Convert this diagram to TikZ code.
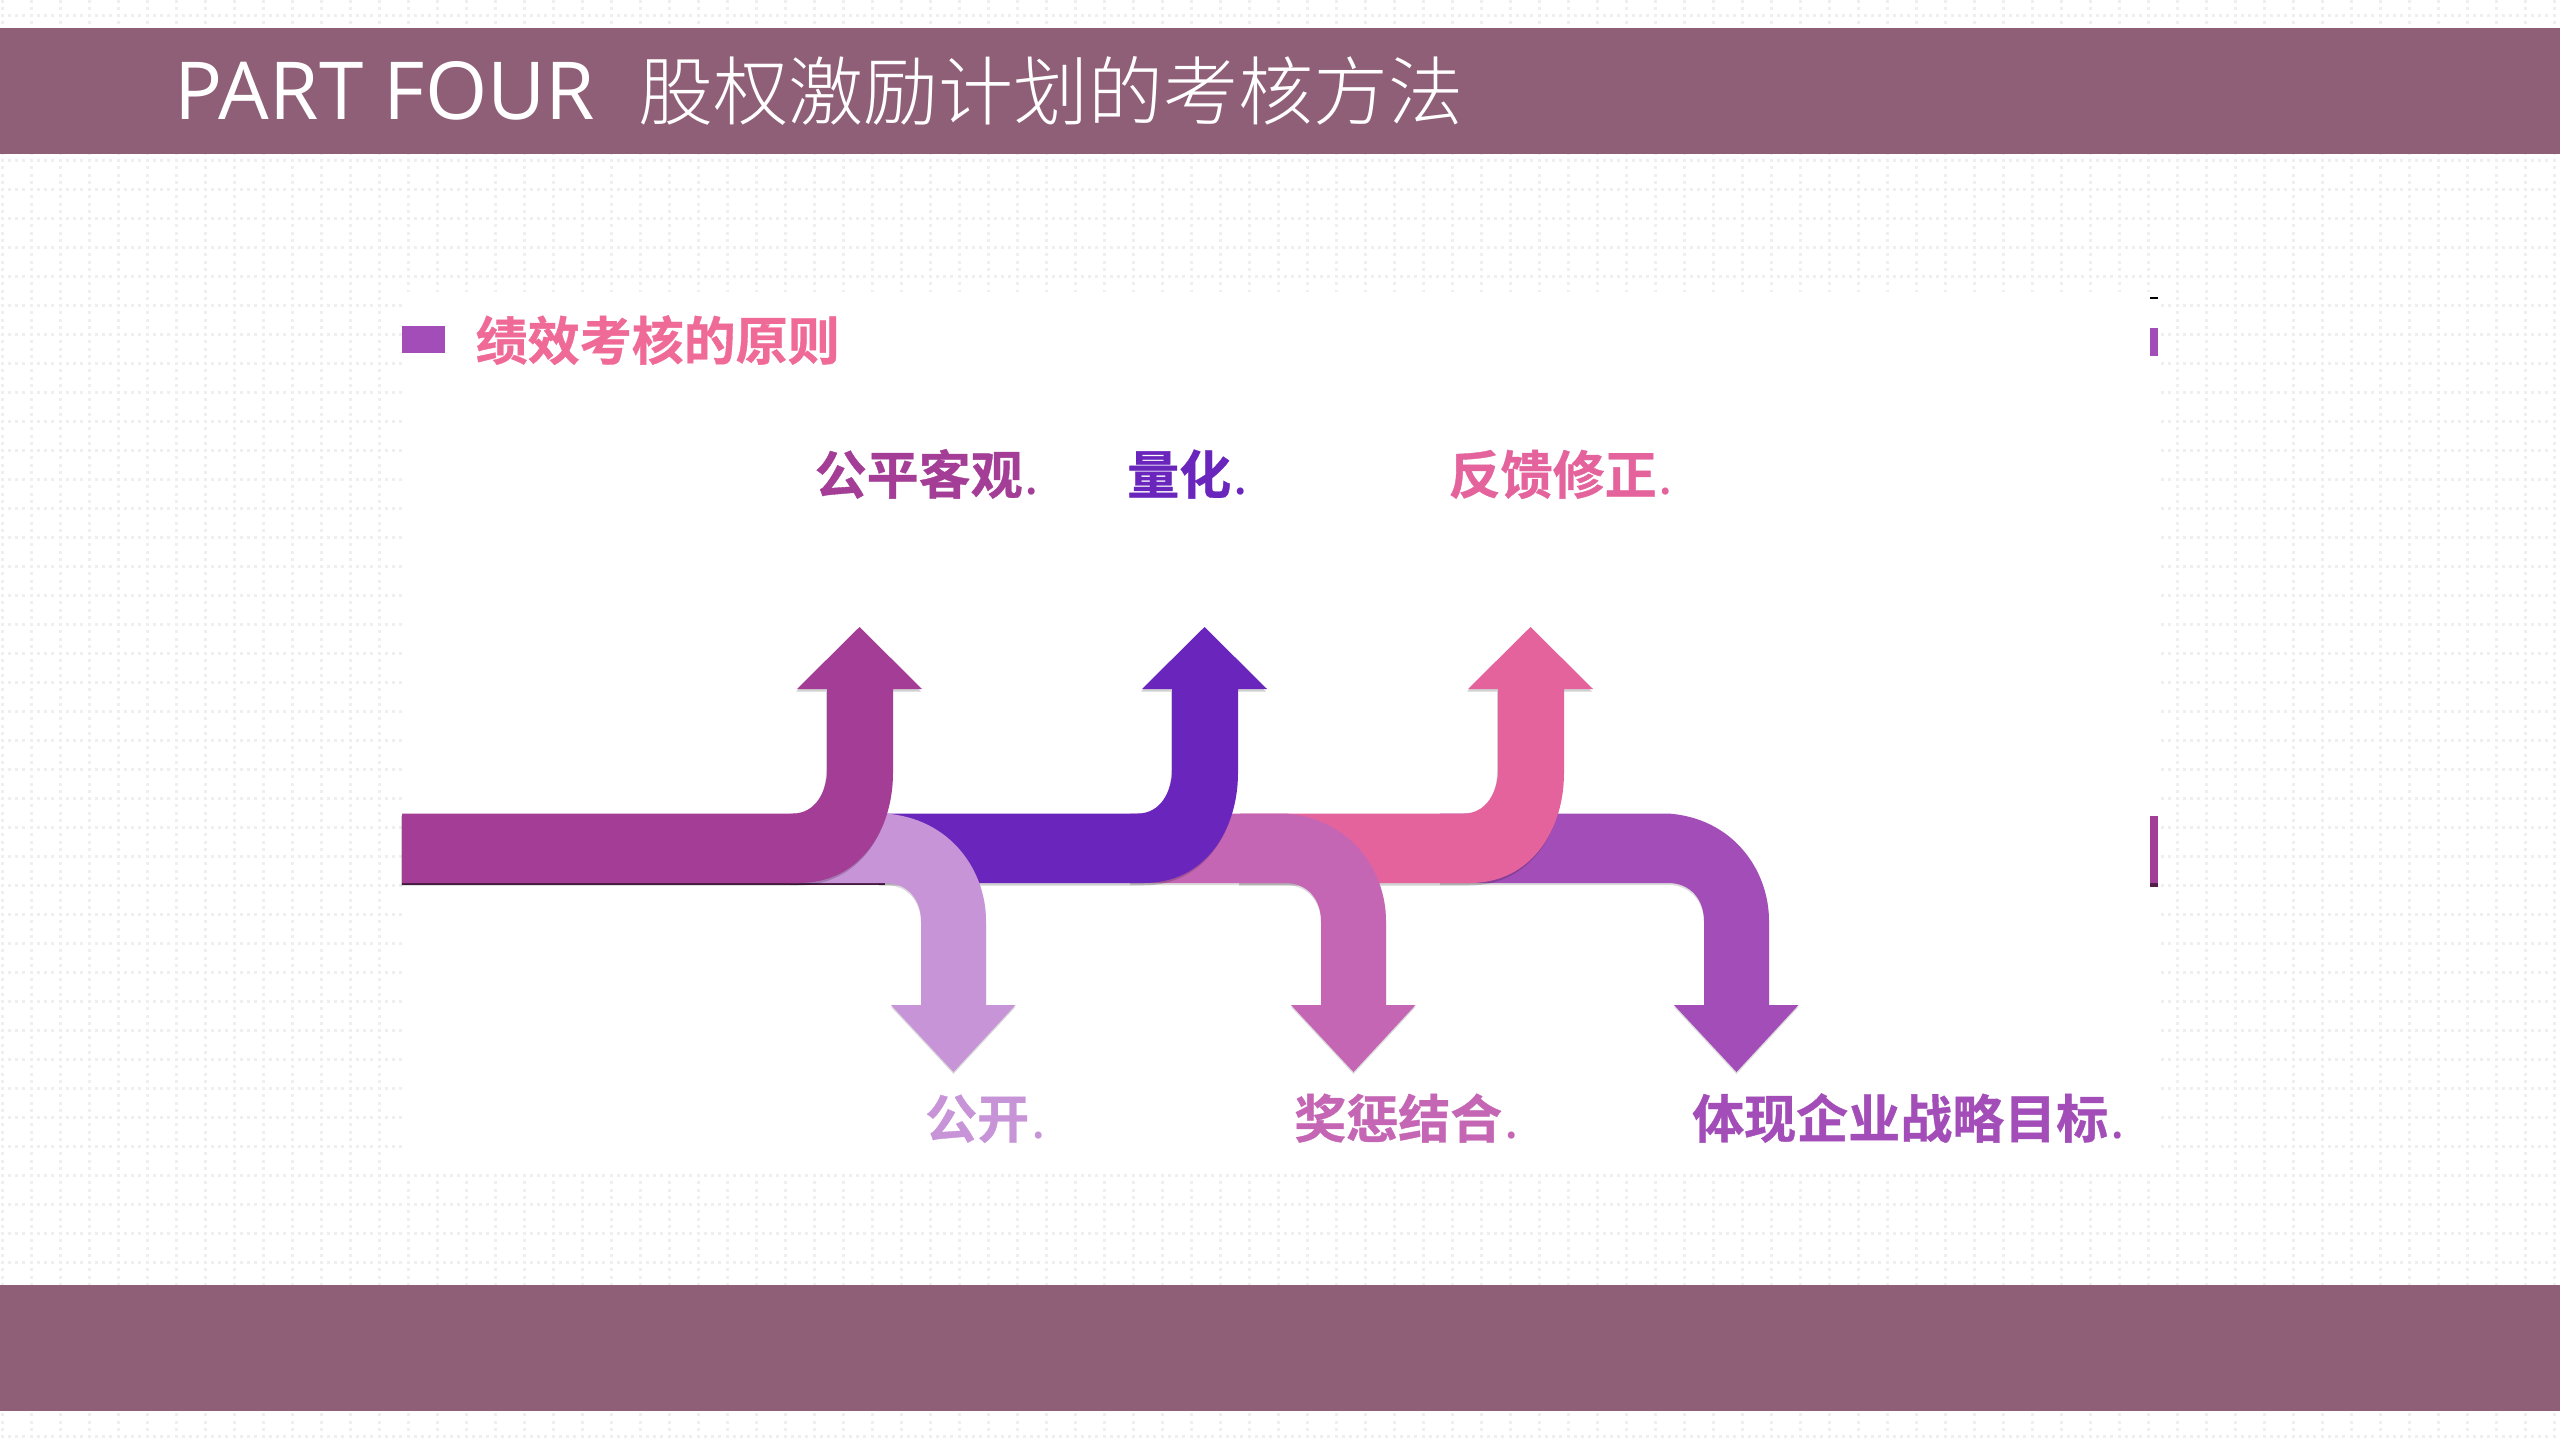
\documentclass[tikz,border=0pt]{standalone}
\usepackage{fontspec}
\newfontfamily\cjkbold[FakeBold=0.7]{Noto Sans CJK SC Bold}
\newfontfamily\cjkdot{Noto Sans CJK SC}
\newfontfamily\cjklight{Noto Sans CJK SC Light}
\newfontfamily\latinreg{Open Sans}
\definecolor{band}{HTML}{8F5E77}
\definecolor{dotgrey}{HTML}{EFEFEF}
\definecolor{cMagenta}{HTML}{A33D96}
\definecolor{cViolet}{HTML}{6A25BD}
\definecolor{cPink}{HTML}{E5639C}
\definecolor{cLilac}{HTML}{C794D8}
\definecolor{cOrchid}{HTML}{C566B5}
\definecolor{cPurple}{HTML}{A24DB8}
\definecolor{cRose}{HTML}{EF6A97}
\newcommand{\uppath}[1]{(#1,813.5) -- (793,813.5) .. controls (815,813.5) and (827,792) .. (827,770) -- (827,689) -- (797,689) -- (859.5,627) -- (922,689) -- (893,689) -- (893,773) .. controls (893,830) and (860,883) .. (799,883) -- (#1,883) -- cycle}
\newcommand{\downpath}[1]{(#1,813.5) -- (885,813.5) .. controls (950,818) and (986,870) .. (986,921) -- (986,1005) -- (1015.5,1005) -- (953.5,1072) -- (891,1005) -- (921,1005) -- (921,921) .. controls (921,900) and (908,883) .. (885,883) -- (#1,883) -- cycle}
\newcommand{\uparrowshape}[3]{\begin{scope}[xshift=#2pt]
  \fill[black,opacity=.18] [xshift=-1pt,yshift=-2.5pt] \uppath{#1};
  \fill[#3] \uppath{#1};
\end{scope}}
\newcommand{\downarrowshape}[3]{\begin{scope}[xshift=#2pt]
  \fill[black,opacity=.14] [yshift=-2pt] \downpath{#1};
  \fill[#3] \downpath{#1};
\end{scope}}
\newcommand{\smalldot}{\hspace{2pt}{\cjkdot .}}
\tikzset{
  label text/.style={anchor=base west,inner sep=0pt,font=\cjkbold\fontsize{52}{52}\selectfont},
  title text/.style={anchor=base west,inner sep=0pt,text=white},
}
\begin{document}
\begin{tikzpicture}[x=1pt,y=-1pt]
\useasboundingbox (0,0) rectangle (2560,1440);
\fill[white] (0,0) rectangle (2560,1440);
% dotted background
\foreach \k in {0,...,49}{
  \draw[dotgrey,line width=3pt,dash pattern=on 3pt off 4.25pt] (0.5,{15.7+29*\k}) -- (2560,{15.7+29*\k});
}
\foreach \k in {0,...,88}{
  \draw[dotgrey,line width=3pt,dash pattern=on 3pt off 4.25pt] ({2+29*\k},-14.8) -- ({2+29*\k},1440);
}
% bands and white panel
\fill[white] (402,292) rectangle (2158,1172);
\fill[band] (0,28) rectangle (2560,154);
\fill[band] (0,1285) rectangle (2560,1411);
\node[title text] (title) at (174.5,119) {\fontsize{80}{80}\selectfont{\latinreg PART FOUR}\hspace{43pt}{\cjklight\fontsize{75}{75}\selectfont 股权激励计划的考核方法}};
% heading
\fill[cPurple] (402,326) rectangle (445,353);
\node[label text,text=cRose] (heading) at (475.5,360) {绩效考核的原则};
% right margin marks
\fill[black] (2150,296.5) rectangle (2158,298.5);
\fill[cPurple] (2150,328) rectangle (2158,356);
\fill[cMagenta] (2150,816) rectangle (2158,883);
\fill[black!50!cMagenta] (2150,883) rectangle (2158,887);
% arrows, back to front
\fill[black!50!cMagenta] (402,883) rectangle (885,885);
\downarrowshape{657}{783}{cPurple}
\uparrowshape{569}{671}{cPink}
\downarrowshape{730}{400}{cOrchid}
\uparrowshape{535}{345}{cViolet}
\downarrowshape{790}{0}{cLilac}
\uparrowshape{402}{0}{cMagenta}
% labels
\node[label text,text=cMagenta] (l1) at (814.5,494) {公平客观\smalldot};
\node[label text,text=cViolet] (l2) at (1127,494) {量化\smalldot};
\node[label text,text=cPink] (l3) at (1448.5,494) {反馈修正\smalldot};
\node[label text,text=cLilac] (l4) at (925,1138) {公开\smalldot};
\node[label text,text=cOrchid] (l5) at (1294,1138) {奖惩结合\smalldot};
\node[label text,text=cPurple] (l6) at (1692,1138) {体现企业战略目标\smalldot};
\end{tikzpicture}
\end{document}
